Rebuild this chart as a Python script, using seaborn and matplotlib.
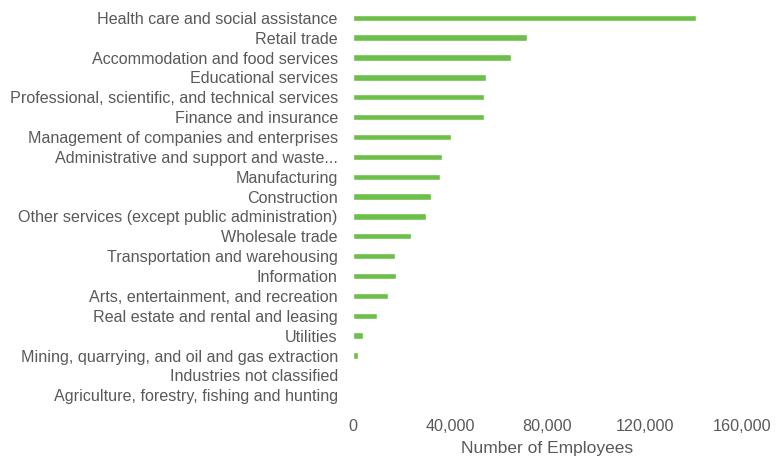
import matplotlib
matplotlib.use("Agg")
import matplotlib.pyplot as plt
import seaborn as sns
import pandas as pd
from matplotlib.ticker import FuncFormatter

industries = [
    "Health care and social assistance",
    "Retail trade",
    "Accommodation and food services",
    "Educational services",
    "Professional, scientific, and technical services",
    "Finance and insurance",
    "Management of companies and enterprises",
    "Administrative and support and waste...",
    "Manufacturing",
    "Construction",
    "Other services (except public administration)",
    "Wholesale trade",
    "Transportation and warehousing",
    "Information",
    "Arts, entertainment, and recreation",
    "Real estate and rental and leasing",
    "Utilities",
    "Mining, quarrying, and oil and gas extraction",
    "Industries not classified",
    "Agriculture, forestry, fishing and hunting",
]
employees = [
    141000, 71500, 64900, 54600, 53900, 53800, 40200, 36500, 35800, 32000,
    29900, 23900, 17300, 17500, 14300, 9700, 4200, 2100, 0, 0,
]
x_ticks = [0, 40000, 80000, 120000, 160000]

df = pd.DataFrame({"Industry": industries, "Employees": employees})

sns.set_theme(style="white")
plt.rcParams["font.family"] = ["Liberation Sans", "DejaVu Sans"]

text_color = "#595959"
fig = plt.figure(figsize=(7.76, 4.62), dpi=100)
ax = fig.add_axes([0.455, 0.123, 0.501, 0.860])

sns.barplot(data=df, x="Employees", y="Industry", orient="h",
            color="#6cc04a", saturation=1, width=0.32, ax=ax)

ax.set_xlim(0, 160000)
ax.set_ylim(len(industries) - 0.5, -0.5)
ax.set_xticks(x_ticks)
ax.xaxis.set_major_formatter(FuncFormatter(lambda v, p: f"{int(v):,}"))
ax.set_xlabel("Number of Employees", fontsize=12.5, color=text_color, labelpad=5)
ax.set_ylabel("")
ax.tick_params(axis="y", length=0, pad=11, labelsize=11.6, labelcolor=text_color)
ax.tick_params(axis="x", length=0, pad=10, labelsize=11.6, labelcolor=text_color)
for s in ax.spines.values():
    s.set_visible(False)
ax.grid(False)

fig.savefig("out.png", dpi=100, facecolor="white")
